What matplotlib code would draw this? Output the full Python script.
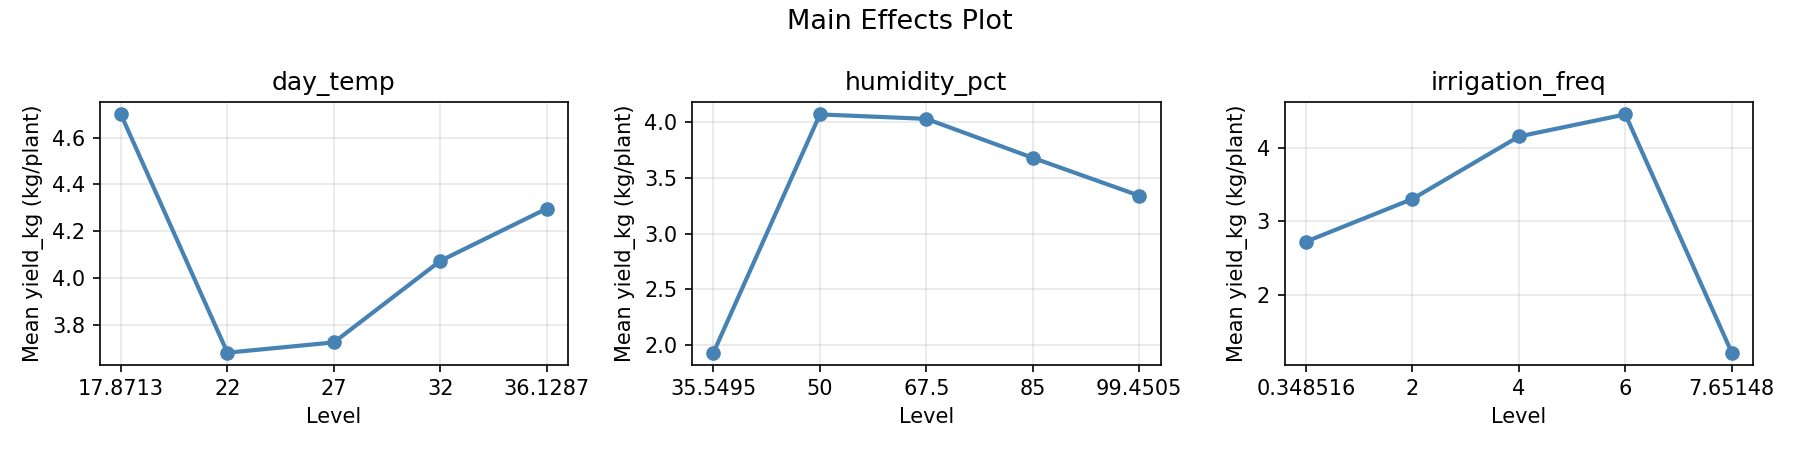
import matplotlib
matplotlib.use('Agg')
import matplotlib.pyplot as plt

factors = ['day_temp', 'humidity_pct', 'irrigation_freq']

day_temp_levels = ['17.8713', '22', '27', '32', '36.1287']
day_temp_means = [4.70, 3.68, 3.724, 4.073, 4.297]

humidity_levels = ['35.5495', '50', '67.5', '85', '99.4505']
humidity_means = [1.93, 4.07, 4.03, 3.68, 3.34]

irrigation_levels = ['0.348516', '2', '4', '6', '7.65148']
irrigation_means = [2.72, 3.30, 4.15, 4.45, 1.21]

levels = [day_temp_levels, humidity_levels, irrigation_levels]
means = [day_temp_means, humidity_means, irrigation_means]

fig, axes = plt.subplots(1, 3, figsize=(12, 3), dpi=150)

for ax, name, lv, mv in zip(axes, factors, levels, means):
    x = list(range(len(lv)))
    ax.plot(x, mv, marker='o', color='steelblue', linewidth=2, markersize=6)
    ax.set_xticks(x)
    ax.set_xticklabels(lv)
    ax.set_title(name)
    ax.set_xlabel('Level')
    ax.set_ylabel('Mean yield_kg (kg/plant)')
    ax.grid(True, alpha=0.3)

fig.suptitle('Main Effects Plot', fontsize=13)
plt.tight_layout()
plt.savefig('out.png')
